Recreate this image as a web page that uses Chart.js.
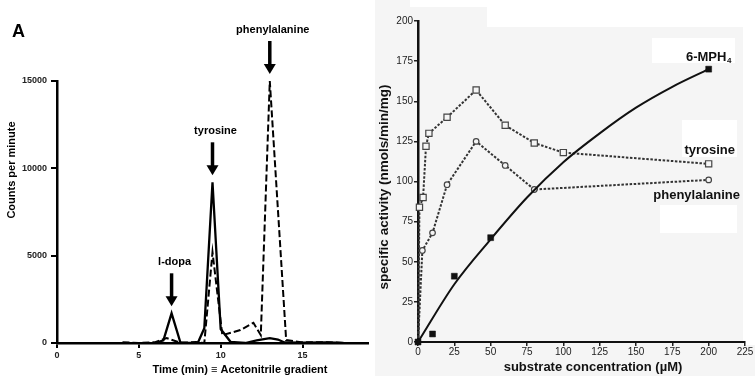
<!DOCTYPE html>
<html><head><meta charset="utf-8">
<script src="https://cdn.jsdelivr.net/npm/chart.js@4/dist/chart.umd.min.js"></script>
<style>
html,body{margin:0;padding:0;background:#fff;width:755px;height:376px;overflow:hidden;}
#wrapA{position:absolute;left:0;top:0;width:375px;height:376px;}
#wrapB{position:absolute;left:375px;top:0;width:380px;height:376px;}
canvas{display:block;}
</style></head><body>
<div id="wrapA"><canvas id="cA" width="375" height="376"></canvas></div>
<div id="wrapB"><canvas id="cB" width="380" height="376"></canvas></div>
<script>
// ---------- Panel A: radio-HPLC trace ----------
const solidTime   = [6, 6.5, 7, 7.55, 8.6, 9, 9.5, 10, 10.6, 11.5, 12.2, 13, 13.5, 13.9, 15, 16.5, 17.5];
const solidCounts = [0, 150, 1700, 0, 0, 850, 9200, 800, 70, 0, 150, 280, 200, 30, 20, 40, 0];
const dashedTime   = [4, 5, 6, 6.7, 7.5, 8.5, 9, 9.5, 10.1, 11.2, 12, 12.45, 13, 14, 14.9, 16.5, 17.5];
const dashedCounts = [50, 0, 50, 280, 20, 50, 0, 5200, 450, 740, 1160, 450, 15000, 170, 50, 50, 0];
const xTicksA = [0, 5, 10, 15];
const yTicksA = [0, 5000, 10000, 15000];
const peakLabels = ['l-dopa', 'tyrosine', 'phenylalanine'];
const peakTimes  = [7, 9.5, 13];
const peakCounts = [1700, 9200, 15000];

// ---------- Panel B: specific activity ----------
const tyrConc = [0, 1, 3.5, 5.5, 7.5, 20, 40, 60, 80, 100, 200];
const tyrAct  = [0, 84, 90, 122, 130, 140, 157, 135, 124, 118, 111];
const pheConc = [0, 3, 10, 20, 40, 60, 80, 200];
const pheAct  = [0, 57, 68, 98, 125, 110, 95, 101];
const mphConc = [0, 10, 25, 50, 200];
const mphAct  = [0, 5, 41, 65, 170];
const mphFitConc = [0, 25, 50, 75, 100, 125, 150, 175, 200];
const mphFitAct  = [0, 36, 64, 90, 112, 130, 146, 159, 170];
const xTicksB = [0, 25, 50, 75, 100, 125, 150, 175, 200, 225];
const yTicksB = [0, 25, 50, 75, 100, 125, 150, 175, 200];

const FONT = '"Liberation Sans", Arial, Helvetica, sans-serif';
Chart.defaults.font.family = FONT;
const pts = (xs, ys) => xs.map((x, i) => ({x: x, y: ys[i]}));
const fixTicks = arr => (s => { s.ticks = arr.map(v => ({value: v})); });
const plain = v => String(v);

// ---------- plugin: panel A text & arrows ----------
const panelAText = {
  id: 'panelAText',
  afterDraw(chart) {
    const ctx = chart.ctx, xs = chart.scales.x, ys = chart.scales.y;
    ctx.save();
    ctx.fillStyle = '#000';
    ctx.strokeStyle = '#000';
    ctx.font = 'bold 18px ' + FONT;
    ctx.textAlign = 'left'; ctx.textBaseline = 'middle';
    ctx.fillText('A', 12, 32);

    ctx.font = 'bold 11px ' + FONT;
    ctx.textAlign = 'center';
    ctx.fillText('Time (min) \u2261 Acetonitrile gradient', 240, 370);

    ctx.save();
    ctx.translate(12, 170); ctx.rotate(-Math.PI / 2);
    ctx.fillText('Counts per minute', 0, 0);
    ctx.restore();

    for (let i = 0; i < peakLabels.length; i++) {
      const x = xs.getPixelForValue(peakTimes[i]);
      const tip = ys.getPixelForValue(peakCounts[i]) - 7;
      const top = tip - 33;
      ctx.lineWidth = 3.5;
      ctx.beginPath(); ctx.moveTo(x, top); ctx.lineTo(x, tip - 8); ctx.stroke();
      ctx.beginPath();
      ctx.moveTo(x - 6, tip - 10); ctx.lineTo(x + 6, tip - 10); ctx.lineTo(x, tip); ctx.closePath();
      ctx.fill();
      ctx.font = 'bold 11px ' + FONT;
      ctx.fillText(peakLabels[i], x + 3, top - 11);
    }
    ctx.restore();
  }
};

new Chart(document.getElementById('cA'), {
  type: 'line',
  data: {
    datasets: [
      { label: 'solid', data: pts(solidTime, solidCounts), borderColor: '#000', borderWidth: 2.3,
        pointRadius: 0, tension: 0, fill: false },
      { label: 'dashed', data: pts(dashedTime, dashedCounts), borderColor: '#000', borderWidth: 2,
        borderDash: [7, 3], pointRadius: 0, tension: 0, fill: false }
    ]
  },
  options: {
    responsive: false, animation: false, events: [],
    layout: { padding: { left: 0, right: 7, top: 81, bottom: 0 } },
    plugins: { legend: { display: false }, tooltip: { enabled: false } },
    scales: {
      x: { type: 'linear', min: 0, max: 19,
        afterBuildTicks: fixTicks(xTicksA),
        afterFit: s => { s.height = 33; },
        grid: { drawOnChartArea: false, drawTicks: true, tickLength: 5, color: '#000', lineWidth: 2 },
        border: { display: true, color: '#000', width: 2.5 },
        ticks: { color: '#222', font: { size: 9, weight: 'bold' }, padding: 2, maxRotation: 0, callback: plain } },
      y: { type: 'linear', min: 0, max: 15000,
        afterBuildTicks: fixTicks(yTicksA),
        afterFit: s => { s.width = 57; },
        grid: { drawOnChartArea: false, drawTicks: true, tickLength: 6, color: '#000', lineWidth: 2 },
        border: { display: true, color: '#000', width: 2.5 },
        ticks: { color: '#222', font: { size: 9, weight: 'bold' }, padding: 4, callback: plain } }
    }
  },
  plugins: [panelAText]
});

// ---------- plugin: panel B background, text ----------
const panelBText = {
  id: 'panelBText',
  beforeDraw(chart) {
    const ctx = chart.ctx;
    ctx.save();
    ctx.fillStyle = '#f5f5f5';
    ctx.fillRect(0, 0, 380, 376);
    ctx.fillStyle = '#ffffff';
    ctx.fillRect(35, 0, 333, 7);
    ctx.fillRect(112, 7, 256, 20);
    ctx.fillRect(368, 0, 12, 345);
    ctx.fillRect(277, 38, 83, 25);
    ctx.fillRect(307, 120, 55, 37);
    ctx.fillRect(285, 205, 77, 28);
    ctx.restore();
  },
  afterDraw(chart) {
    const ctx = chart.ctx, xs = chart.scales.x;
    ctx.save();
    ctx.fillStyle = '#111';
    ctx.textBaseline = 'middle';
    ctx.font = 'bold 13px ' + FONT;
    const x200 = xs.getPixelForValue(200);
    ctx.textAlign = 'left';
    const w = ctx.measureText('6-MPH').width;
    const lx = x200 - (w + 5) / 2;
    ctx.fillText('6-MPH', lx, 57);
    ctx.font = 'bold 8px ' + FONT;
    ctx.fillText('4', lx + w + 0.5, 61);
    ctx.font = 'bold 13px ' + FONT;
    ctx.textAlign = 'center';
    ctx.fillText('tyrosine', x200 + 1, 150);
    ctx.fillText('phenylalanine', x200 - 12, 195);

    ctx.fillText('substrate concentration (\u00b5M)', 218, 367);
    ctx.save();
    ctx.translate(9, 187); ctx.rotate(-Math.PI / 2);
    ctx.font = 'bold 13.5px ' + FONT;
    ctx.fillText('specific activity (nmols/min/mg)', 0, 0);
    ctx.restore();
    ctx.restore();
  }
};

new Chart(document.getElementById('cB'), {
  type: 'scatter',
  data: {
    datasets: [
      { label: '6-MPH4 fit', data: pts(mphFitConc, mphFitAct), showLine: true, borderColor: '#111',
        borderWidth: 2, pointRadius: 0, tension: 0.4, cubicInterpolationMode: 'monotone', clip: false },
      { label: '6-MPH4', data: pts(mphConc, mphAct), showLine: false, pointStyle: 'rect',
        pointRadius: 4.2, backgroundColor: '#111', borderColor: '#111', pointBorderWidth: 0.5, clip: false },
      { label: 'tyrosine', data: pts(tyrConc, tyrAct), showLine: true, borderColor: '#333', borderWidth: 2,
        borderDash: [2.5, 1.6], pointStyle: 'rect',
        pointRadius: c => (c.raw && c.raw.x === 0 ? 0 : 4.4),
        pointBackgroundColor: '#f5f5f5', pointBorderColor: '#444', pointBorderWidth: 1.2, tension: 0, clip: false },
      { label: 'phenylalanine', data: pts(pheConc, pheAct), showLine: true, borderColor: '#333', borderWidth: 2,
        borderDash: [2.5, 1.6], pointStyle: 'circle',
        pointRadius: c => (c.raw && c.raw.x === 0 ? 0 : 2.8),
        pointBackgroundColor: '#f5f5f5', pointBorderColor: '#444', pointBorderWidth: 1.2, tension: 0, clip: false }
    ]
  },
  options: {
    responsive: false, animation: false, events: [],
    layout: { padding: { left: 0, right: 10, top: 21, bottom: 0 } },
    plugins: { legend: { display: false }, tooltip: { enabled: false } },
    scales: {
      x: { type: 'linear', min: 0, max: 225,
        afterBuildTicks: fixTicks(xTicksB),
        afterFit: s => { s.height = 34; },
        grid: { drawOnChartArea: false, drawTicks: true, tickLength: 4, color: '#222', lineWidth: 1.5 },
        border: { display: true, color: '#111', width: 2 },
        ticks: { color: '#222', font: { size: 10 }, padding: 0, maxRotation: 0, callback: plain } },
      y: { type: 'linear', min: 0, max: 200,
        afterBuildTicks: fixTicks(yTicksB),
        afterFit: s => { s.width = 43; },
        grid: { drawOnChartArea: false, drawTicks: true, tickLength: 4, color: '#222', lineWidth: 1.5 },
        border: { display: true, color: '#111', width: 2.5 },
        ticks: { color: '#222', font: { size: 10 }, padding: 1, callback: plain } }
    }
  },
  plugins: [panelBText]
});
</script>
</body></html>
